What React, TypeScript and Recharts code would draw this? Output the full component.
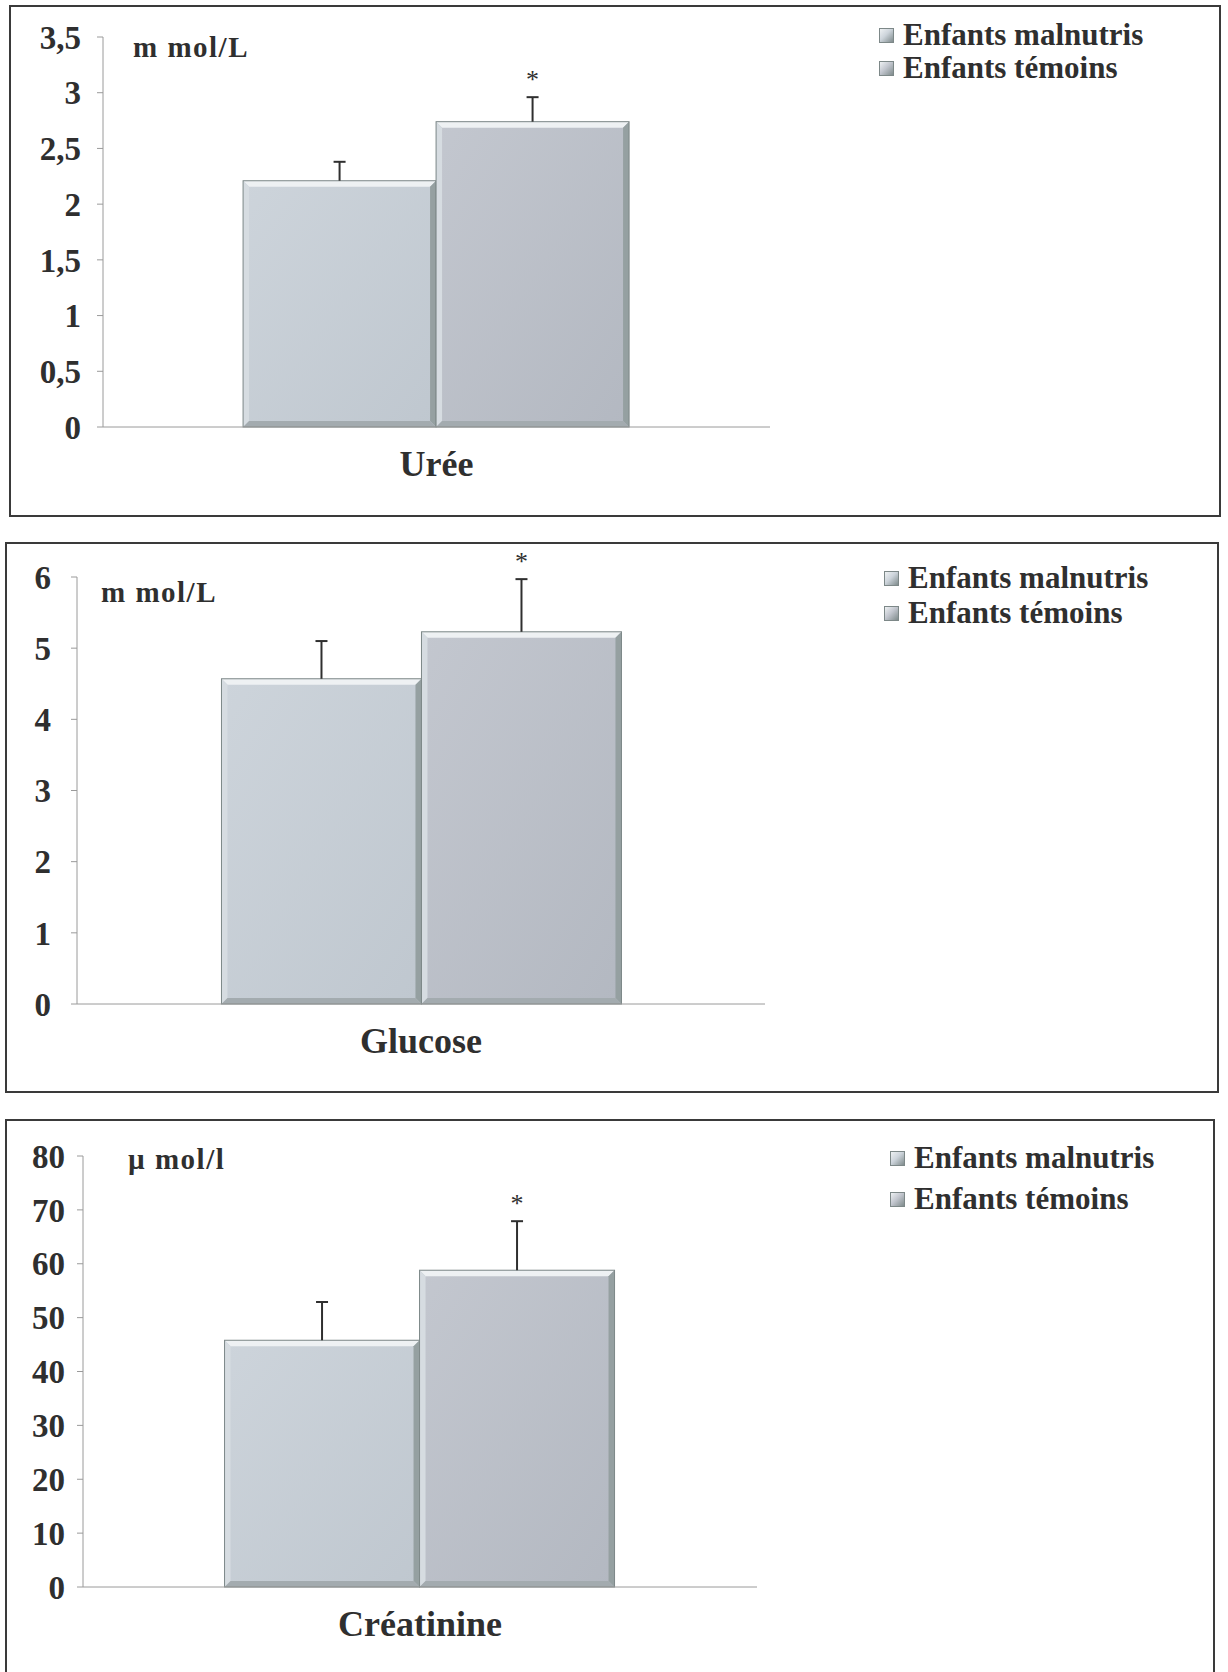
import { BarChart, Bar, XAxis, YAxis } from "recharts";

// groupes comparés
const groupKeys = ["malnutris", "temoins"];
const groupNames = ["Enfants malnutris", "Enfants témoins"];
const significance = ["", "*"];

// moyennes et écarts-types
const ureeMean = [2.21, 2.74];
const ureeSd = [0.17, 0.22];
const glucoseMean = [4.57, 5.23];
const glucoseSd = [0.53, 0.74];
const creatinineMean = [45.8, 58.8];
const creatinineSd = [7.1, 9.1];

// graduations
const ureeTicks = [0, 0.5, 1, 1.5, 2, 2.5, 3, 3.5];
const glucoseTicks = [0, 1, 2, 3, 4, 5, 6];
const creatinineTicks = [0, 10, 20, 30, 40, 50, 60, 70, 80];

const FONT = '"Liberation Serif", "Times New Roman", serif';
const INK = "#2f2f2f";
const AXIS = "#9a9a9a";

const barFills = [
  ["#cdd4db", "#bfc7cf"],
  ["#c3c7cf", "#b3b8c1"],
];

function makeRow(name, mean, sd) {
  const row = { name };
  groupKeys.forEach((k, i) => {
    row[k] = mean[i];
    row[k + "Sd"] = sd[i];
    row[k + "Sig"] = significance[i];
  });
  return [row];
}

// barre biseautée + barre d'erreur (côté haut) + astérisque
function BevelBar(props) {
  const { x, y, width, height, payload, dataKey, gradId } = props;
  if (!height || height <= 0) return null;
  const v = payload[dataKey];
  const k = height / v;
  const sd = payload[dataKey + "Sd"];
  const sig = payload[dataKey + "Sig"];
  const b = 6;
  const cx = x + width / 2;
  const errTop = y - sd * k;
  return (
    <g>
      <rect x={x} y={y} width={width} height={height} fill={`url(#${gradId})`} />
      <polygon
        points={`${x},${y} ${x + width},${y} ${x + width - b},${y + b} ${x + b},${y + b}`}
        fill="#eef1f3"
      />
      <polygon
        points={`${x},${y} ${x + b},${y + b} ${x + b},${y + height - b} ${x},${y + height}`}
        fill="#d6dce1"
      />
      <polygon
        points={`${x + width},${y} ${x + width},${y + height} ${x + width - b},${y + height - b} ${x + width - b},${y + b}`}
        fill="#95a0a1"
      />
      <polygon
        points={`${x},${y + height} ${x + width},${y + height} ${x + width - b},${y + height - b} ${x + b},${y + height - b}`}
        fill="#a3abaf"
      />
      <rect x={x} y={y} width={width} height={height} fill="none" stroke="#7d8888" strokeWidth={1} />
      <line x1={cx} y1={y} x2={cx} y2={errTop} stroke={INK} strokeWidth={2} />
      <line x1={cx - 6} y1={errTop} x2={cx + 6} y2={errTop} stroke={INK} strokeWidth={2} />
      {sig ? (
        <text x={cx} y={errTop - 9} textAnchor="middle" fontFamily={FONT} fontSize={26} fill={INK}>
          {sig}
        </text>
      ) : null}
    </g>
  );
}

function CategoryTick({ x, y, payload }) {
  return (
    <text x={x} y={y + 49} textAnchor="middle" fontFamily={FONT} fontWeight="bold" fontSize={36} fill={INK}>
      {payload.value}
    </text>
  );
}

function Swatch({ i }) {
  return (
    <span
      style={{
        display: "inline-block",
        width: 15,
        height: 15,
        marginRight: 9,
        boxSizing: "border-box",
        border: "1px solid #7d8888",
        background: `linear-gradient(135deg, #eef1f3 0%, ${barFills[i][0]} 45%, #7f8b8c 100%)`,
      }}
    />
  );
}

function Panel({ id, box, data, ticks, unit, unitPos, legendLeft, legendRows, axisX, plotTop, plotBottom, axisEnd, tickGap }) {
  const innerH = box.height - 4;
  const chartW = axisEnd + 20;
  const xAxisH = 60;
  const max = ticks[ticks.length - 1];
  const fmt = (v) => String(v).replace(".", ",");
  return (
    <div
      style={{
        position: "absolute",
        left: box.left,
        top: box.top,
        width: box.width,
        height: box.height,
        boxSizing: "border-box",
        border: "2px solid #3a3a3a",
        background: "#fff",
      }}
    >
      <BarChart
        width={chartW}
        height={innerH}
        data={data}
        margin={{ top: plotTop, left: 0, right: chartW - axisEnd, bottom: innerH - plotBottom - xAxisH }}
        barCategoryGap="21%"
        barGap={0}
      >
        <defs>
          {barFills.map((c, i) => (
            <linearGradient key={i} id={`${id}-g${i}`} x1="0" y1="0" x2="1" y2="1">
              <stop offset="0%" stopColor={c[0]} />
              <stop offset="100%" stopColor={c[1]} />
            </linearGradient>
          ))}
        </defs>
        <XAxis
          dataKey="name"
          height={xAxisH}
          axisLine={{ stroke: AXIS }}
          tickLine={false}
          tickSize={0}
          tickMargin={0}
          tick={<CategoryTick />}
        />
        <YAxis
          width={axisX}
          domain={[0, max]}
          ticks={ticks}
          interval={0}
          axisLine={{ stroke: AXIS }}
          tickLine={{ stroke: AXIS }}
          tickSize={6}
          tickMargin={tickGap}
          tickFormatter={fmt}
          tick={{ fontFamily: FONT, fontWeight: "bold", fontSize: 33, fill: INK }}
        />
        {groupKeys.map((k, i) => (
          <Bar
            key={k}
            dataKey={k}
            name={groupNames[i]}
            isAnimationActive={false}
            shape={(p) => <BevelBar {...p} dataKey={k} gradId={`${id}-g${i}`} />}
          />
        ))}
      </BarChart>

      <div
        style={{
          position: "absolute",
          left: unitPos[0],
          top: unitPos[1] - 16,
          lineHeight: "32px",
          fontFamily: FONT,
          fontWeight: "bold",
          fontSize: 29,
          letterSpacing: 1.5,
          color: INK,
          whiteSpace: "nowrap",
        }}
      >
        {unit}
      </div>

      {groupNames.map((n, i) => (
        <div
          key={n}
          style={{
            position: "absolute",
            left: legendLeft - 24,
            top: legendRows[i] - 18,
            height: 36,
            display: "flex",
            alignItems: "center",
            fontFamily: FONT,
            fontWeight: "bold",
            fontSize: 31,
            color: INK,
            whiteSpace: "nowrap",
          }}
        >
          <Swatch i={i} />
          {n}
        </div>
      ))}
    </div>
  );
}

export default function App() {
  return (
    <div
      style={{
        position: "absolute",
        left: 0,
        top: 0,
        width: 1228,
        height: 1672,
        overflow: "hidden",
        background: "#fff",
      }}
    >
      <Panel
        id="uree"
        box={{ left: 9, top: 5, width: 1212, height: 512 }}
        data={makeRow("Urée", ureeMean, ureeSd)}
        ticks={ureeTicks}
        unit="m mol/L"
        unitPos={[122, 40]}
        legendLeft={892}
        legendRows={[28, 61]}
        axisX={92}
        plotTop={30}
        plotBottom={420}
        axisEnd={759}
        tickGap={16}
      />
      <Panel
        id="glucose"
        box={{ left: 5, top: 542, width: 1214, height: 551 }}
        data={makeRow("Glucose", glucoseMean, glucoseSd)}
        ticks={glucoseTicks}
        unit="m mol/L"
        unitPos={[94, 48]}
        legendLeft={901}
        legendRows={[34, 69]}
        axisX={70}
        plotTop={33}
        plotBottom={460}
        axisEnd={758}
        tickGap={20}
      />
      <Panel
        id="creatinine"
        box={{ left: 5, top: 1119, width: 1210, height: 570 }}
        data={makeRow("Créatinine", creatinineMean, creatinineSd)}
        ticks={creatinineTicks}
        unit="µ mol/l"
        unitPos={[121, 38]}
        legendLeft={907}
        legendRows={[37, 78]}
        axisX={76}
        plotTop={35}
        plotBottom={466}
        axisEnd={750}
        tickGap={12}
      />
    </div>
  );
}
